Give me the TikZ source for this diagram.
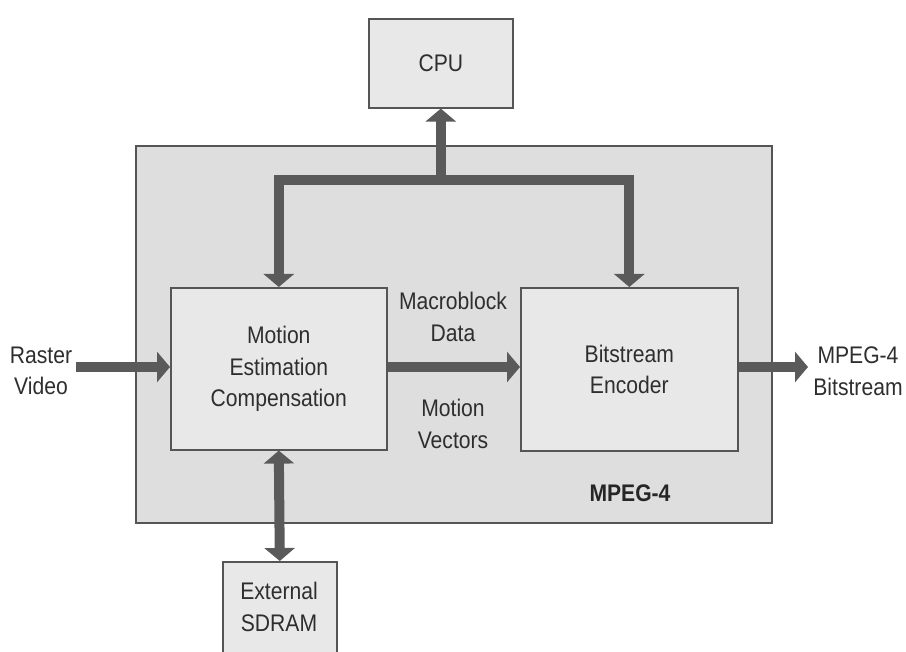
\documentclass[tikz,border=0pt]{standalone}
\usepackage{fontspec}
\setmainfont{Liberation Sans}[FakeStretch=0.88]
\usetikzlibrary{arrows.meta}
\definecolor{bord}{HTML}{555555}
\definecolor{outerfill}{HTML}{DEDEDE}
\definecolor{innerfill}{HTML}{E8E8E8}
\definecolor{arr}{HTML}{5A5A5A}
\definecolor{txt}{HTML}{2E2E2E}
\begin{document}
\begin{tikzpicture}[x=1pt,y=-1pt,
  blk/.style={draw=bord, line width=1.6pt, fill=innerfill, inner sep=0pt, anchor=north west,
    font=\fontsize{24}{31.5}\selectfont, text=txt, align=center},
  lbl/.style={font=\fontsize{24}{31.5}\selectfont, text=txt, align=center, inner sep=0pt},
  bus/.style={draw=arr, line width=10pt, line join=miter},
  tipend/.style={-{Triangle[width=30pt,length=13pt]}},
  tipboth/.style={{Triangle[width=30pt,length=13pt]}-{Triangle[width=30pt,length=13pt]}},
]
\useasboundingbox (0,0) rectangle (906,652);
\clip (0,0) rectangle (906,652);
\fill[white] (0,0) rectangle (906,652);

% outer MPEG-4 block
\node[blk, fill=outerfill, minimum width=636pt, minimum height=377pt] (mpeg) at (135,145) {};
\node[lbl, font=\fontsize{24}{31.5}\selectfont\bfseries, text=black!85] (mpeglbl) at (630,493) {MPEG-4};

% blocks
\node[blk, minimum width=144pt, minimum height=89pt] (cpu) at (368,18) {CPU};
\node[blk, minimum width=216pt, minimum height=162pt] (me) at (170,287) {Motion\\Estimation\\Compensation};
\node[blk, minimum width=217pt, minimum height=163pt] (be) at (520,287) {Bitstream\\Encoder};
\node[blk, minimum width=114pt, minimum height=110pt] (sdram) at (222,561) {};
\node[lbl] (sdramlbl) at (279,607) {External\\SDRAM};

% labels
\node[lbl] (raster) at (41,371) {Raster\\Video};
\node[lbl] (mpegout) at (858,371) {MPEG-4\\Bitstream};
\node[lbl] (mbdata) at (453,317) {Macroblock\\Data};
\node[lbl] (mvec) at (453,424) {Motion\\Vectors};

% free ends
\coordinate (rin) at (76,367);
\coordinate (bout) at (808,367);
\coordinate (busy) at (0,180);

% bus
\draw[bus, tipboth] (me.north) -- (me.north |- busy) -- (be.north |- busy) -- (be.north);
\draw[bus, tipend] (cpu.south |- busy) -- (cpu.south);

% data path
\draw[bus, tipend] (rin) -- (rin -| me.west);
\draw[bus, tipend] (me.east |- rin) -- (be.west |- rin);
\draw[bus, tipend] (be.east |- rin) -- (bout);
\draw[bus, tipboth] (me.south) -- (sdram.north);
\end{tikzpicture}
\end{document}
